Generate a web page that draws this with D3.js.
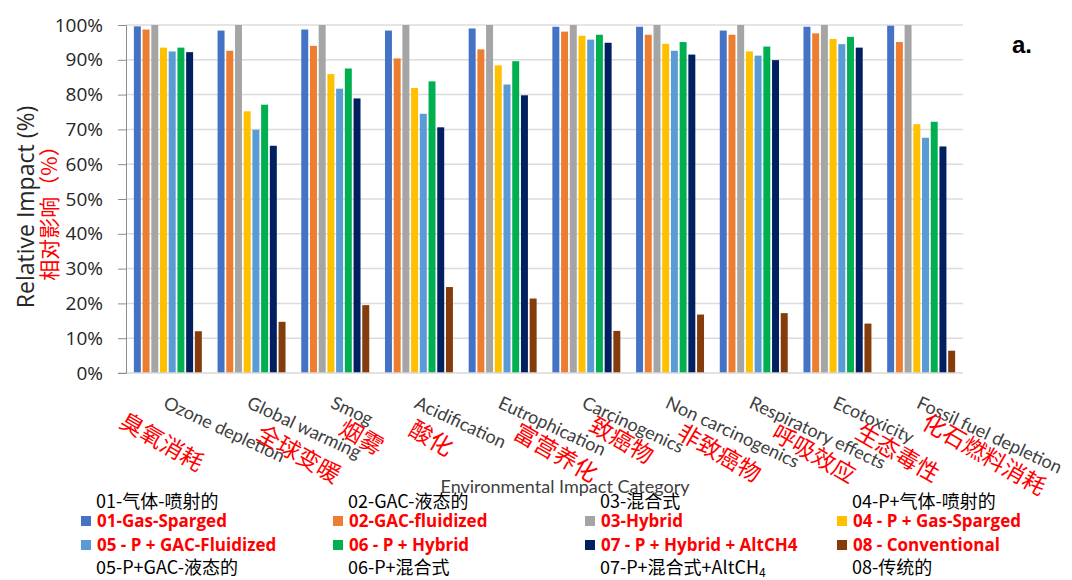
<!DOCTYPE html>
<html>
<head>
<meta charset="utf-8">
<script src="https://cdn.jsdelivr.net/npm/d3@7"></script>
<style>
  body { margin: 0; background: #fff; }
  svg { display: block; }
</style>
</head>
<body>
<svg id="chart" width="1072" height="580"></svg>
<script>
// categories (english + chinese overlay)
var categories = ["Ozone depletion", "Global warming", "Smog", "Acidification", "Eutrophication",
  "Carcinogenics", "Non carcinogenics", "Respiratory effects", "Ecotoxicity", "Fossil fuel depletion"];
var categoriesZh = ["臭氧消耗", "全球变暖", "烟雾", "酸化", "富营养化", "致癌物", "非致癌物", "呼吸效应", "生态毒性", "化石燃料消耗"];

// series (relative impact, %)
var gasSparged    = [99.6, 98.4, 98.7, 98.4, 99.0, 99.5, 99.5, 98.4, 99.5, 99.8];
var gacFluidized  = [98.7, 92.6, 94.0, 90.4, 93.0, 98.1, 97.2, 97.2, 97.6, 95.1];
var hybrid        = [100, 100, 100, 100, 100, 100, 100, 100, 100, 100];
var pGasSparged   = [93.5, 75.2, 85.9, 81.9, 88.4, 96.9, 94.6, 92.4, 96.0, 71.5];
var pGacFluidized = [92.4, 69.9, 81.7, 74.5, 82.9, 95.8, 92.6, 91.2, 94.5, 67.6];
var pHybrid       = [93.5, 77.1, 87.5, 83.8, 89.6, 97.2, 95.1, 93.8, 96.6, 72.2];
var pHybridAltCH4 = [92.2, 65.3, 78.9, 70.6, 79.8, 94.9, 91.5, 89.9, 93.5, 65.1];
var conventional  = [12.0, 14.7, 19.5, 24.7, 21.4, 12.1, 16.8, 17.2, 14.2, 6.4];

var seriesNames = ["01-Gas-Sparged", "02-GAC-fluidized", "03-Hybrid", "04 - P + Gas-Sparged",
  "05 - P + GAC-Fluidized", "06 - P + Hybrid", "07 - P + Hybrid + AltCH4", "08 - Conventional"];
var seriesNamesZh = ["01-气体-喷射的", "02-GAC-液态的", "03-混合式", "04-P+气体-喷射的",
  "05-P+GAC-液态的", "06-P+混合式", "07-P+混合式+AltCH", "08-传统的"];
var seriesValues = [gasSparged, gacFluidized, hybrid, pGasSparged, pGacFluidized, pHybrid, pHybridAltCH4, conventional];
var colors = ["#4472C4", "#ED7D31", "#A5A5A5", "#FFC000", "#5B9BD5", "#00B050", "#002060", "#843C0C"];
var yTicks = [0, 10, 20, 30, 40, 50, 60, 70, 80, 90, 100];

// layout only
var zhLabelShift = [[-40, 409], [13, 421], [12, 416], [-2, 417], [19, 420], [11, 413], [15, 420], [26, 421], [26, 420], [9, 410]];

var svg = d3.select("#chart");
var plotLeft = 126, plotRight = 963, plotTop = 25, plotBottom = 373;
var font = "Lato, 'Open Sans', sans-serif";
var zhFont = "'Noto Sans CJK SC', sans-serif";

var x0 = d3.scaleBand().domain(categories).range([plotLeft, plotRight]);
var x1 = d3.scaleBand().domain(d3.range(seriesNames.length))
  .range([7, x0.bandwidth() - 7]).paddingInner(0.2).paddingOuter(0.1);
var y = d3.scaleLinear().domain([0, 100]).range([plotBottom, plotTop]);

// gridlines
svg.append("g").selectAll("line").data(yTicks.slice(1)).join("line")
  .attr("x1", plotLeft).attr("x2", plotRight)
  .attr("y1", function(d) { return y(d); }).attr("y2", function(d) { return y(d); })
  .attr("stroke", "#dcdcdc").attr("stroke-width", 1.5);

// bars
var groups = svg.append("g").selectAll("g").data(categories).join("g")
  .attr("transform", function(d) { return "translate(" + x0(d) + ",0)"; });
groups.selectAll("rect")
  .data(function(d, i) { return seriesValues.map(function(s, k) { return {k: k, v: s[i]}; }); })
  .join("rect")
  .attr("x", function(d) { return x1(d.k); })
  .attr("width", x1.bandwidth())
  .attr("y", function(d) { return y(d.v); })
  .attr("height", function(d) { return y(0) - y(d.v); })
  .attr("fill", function(d) { return colors[d.k]; });

// x baseline
svg.append("line").attr("x1", plotLeft - 8).attr("x2", plotRight).attr("y1", plotBottom).attr("y2", plotBottom)
  .attr("stroke", "#d9d9d9").attr("stroke-width", 1.5);

// y axis
var yAxis = svg.append("g").attr("transform", "translate(" + plotLeft + ",0)")
  .call(d3.axisLeft(y).tickValues(yTicks).tickSize(8).tickPadding(15).tickFormat(function(d) { return d + "%"; }));
yAxis.select(".domain").attr("stroke", "#8c8c8c");
yAxis.selectAll(".tick line").attr("stroke", "#8c8c8c");
yAxis.selectAll("text").attr("font-family", "'Open Sans', sans-serif").attr("font-size", 19).attr("fill", "#262626");

// category labels
svg.append("g").selectAll("text").data(categories).join("text")
  .attr("transform", function(d) { return "translate(" + (x0(d) + x0.bandwidth() / 2) + ",395) rotate(25)"; })
  .attr("dy", "0.75em")
  .attr("font-family", font).attr("font-size", 18).attr("fill", "#404040")
  .text(function(d) { return d; });

svg.append("g").selectAll("text").data(categoriesZh).join("text")
  .attr("transform", function(d, i) {
    var cx = x0(categories[i]) + x0.bandwidth() / 2;
    return "translate(" + (cx + zhLabelShift[i][0]) + "," + zhLabelShift[i][1] + ") rotate(30)";
  })
  .attr("dy", "0.85em")
  .attr("font-family", zhFont).attr("font-size", 23).attr("fill", "#ff0000")
  .text(function(d) { return d; });

// axis titles
svg.append("text").attr("x", 565).attr("y", 493).attr("text-anchor", "middle")
  .attr("font-family", font).attr("font-size", 18).attr("fill", "#404040")
  .text("Environmental Impact Category");

svg.append("text").attr("transform", "translate(34,207) rotate(-90)").attr("text-anchor", "middle")
  .attr("font-family", "'Open Sans', sans-serif").attr("font-size", 23).attr("fill", "#262626")
  .text("Relative Impact (%)");
svg.append("text").attr("transform", "translate(57,208) rotate(-90)").attr("text-anchor", "middle")
  .attr("font-family", zhFont).attr("font-size", 21).attr("fill", "#ff0000")
  .text("相对影响（%）");

// panel tag
svg.append("text").attr("x", 1012).attr("y", 53)
  .attr("font-family", "'Liberation Sans', Arial, sans-serif").attr("font-weight", "bold").attr("font-size", 24)
  .attr("fill", "#000").text("a.");

// legend
var legendX = [81, 333, 585, 837];
var legendY = [521, 545];
var legend = svg.append("g").selectAll("g").data(seriesNames).join("g")
  .attr("transform", function(d, i) { return "translate(" + legendX[i % 4] + "," + legendY[Math.floor(i / 4)] + ")"; });
legend.append("rect").attr("x", 0).attr("y", -5).attr("width", 10).attr("height", 10)
  .attr("fill", function(d, i) { return colors[i]; });
legend.append("text").attr("x", 16).attr("dy", "0.35em")
  .attr("font-family", "'Open Sans', sans-serif").attr("font-weight", "bold").attr("font-size", 17)
  .attr("fill", "#ff0000").text(function(d) { return d; });

var zhLegend = legend.append("text").attr("x", 15)
  .attr("y", function(d, i) { return i < 4 ? -19 : 23; })
  .attr("dy", "0.35em")
  .attr("font-family", zhFont).attr("font-size", 18).attr("fill", "#000")
  .text(function(d, i) { return seriesNamesZh[i]; });
zhLegend.filter(function(d, i) { return i === 6; })
  .append("tspan").attr("dy", 3).attr("font-size", 12).text("4");
</script>
</body>
</html>
